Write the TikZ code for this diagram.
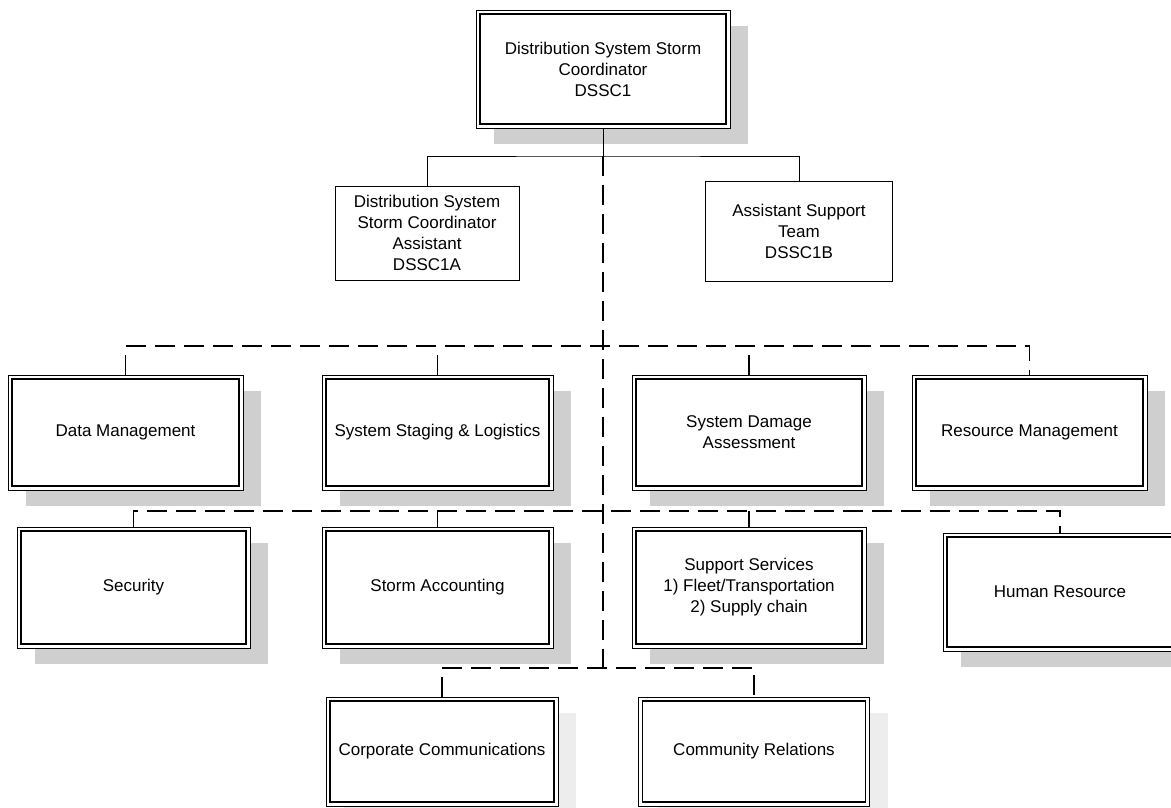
\documentclass[tikz,border=0pt]{standalone}
\usepackage{fontspec}
\setmainfont{Liberation Sans}
\usetikzlibrary{shadows}
\begin{document}
\begin{tikzpicture}[x=1pt,y=-1pt,
  every node/.style={font=\fontsize{17pt}{21pt}\selectfont, align=center, inner sep=0pt},
  plainbox/.style={draw, line width=0.9pt, fill=white},
  dblbox/.style={draw, line width=0.9pt, fill=white,
    drop shadow={shadow xshift=18pt, shadow yshift=-16pt, fill=gray!38, opacity=1},
    path picture={\draw[line width=1.7pt]
      ([shift={(4pt,-4pt)}]path picture bounding box.north west) rectangle
      ([shift={(-4pt,4pt)}]path picture bounding box.south east);}},
  faintbox/.style={dblbox, drop shadow={shadow xshift=18pt, shadow yshift=-16pt, fill=gray!14, opacity=1}},
  solidlink/.style={line width=1pt},
  dashlink/.style={line width=1.3pt, dash pattern=on 20pt off 9pt}
]
\useasboundingbox (0,0) rectangle (1171,807);

% junction points of the connector buses
\coordinate (j1) at (603,156);
\coordinate (b1) at (603,346);
\coordinate (b2) at (603,511);
\coordinate (j3) at (603,668);

% coordinator and assistants
\node[dblbox, minimum width=254pt, minimum height=118pt] (top) at (603,69)
  {Distribution System Storm\\Coordinator\\DSSC1};
\node[plainbox, minimum width=184pt, minimum height=94pt] (dsa) at (427,233)
  {Distribution System\\Storm Coordinator\\Assistant\\DSSC1A};
\node[plainbox, minimum width=187pt, minimum height=100pt] (dsb) at (799,231)
  {Assistant Support\\Team\\DSSC1B};

% first row of functions
\node[dblbox, minimum width=235pt, minimum height=115pt] (dm) at (125.5,432.5) {Data Management};
\node[dblbox, minimum width=231pt, minimum height=115pt] (ssl) at (437.5,432.5) {System Staging \& Logistics};
\node[dblbox, minimum width=234pt, minimum height=115pt] (sda) at (749,432.5) {System Damage\\Assessment};
\node[dblbox, minimum width=235pt, minimum height=115pt] (rm) at (1029.5,432.5) {Resource Management};

% second row of functions
\node[dblbox, minimum width=233pt, minimum height=121pt] (sec) at (133.5,587.5) {Security};
\node[dblbox, minimum width=231pt, minimum height=121pt] (sa) at (437.5,587.5) {Storm Accounting};
\node[dblbox, minimum width=234pt, minimum height=121pt] (ss) at (749,587.5)
  {Support Services\\1) Fleet/Transportation\\2) Supply chain};
\node[dblbox, minimum width=234pt, minimum height=118pt] (hr) at (1060,592) {Human Resource};

% third row
\node[faintbox, minimum width=232pt, minimum height=109pt] (cc) at (442,751.5) {Corporate Communications};
\node[faintbox, minimum width=231pt, minimum height=109pt] (cr) at (754,751.5) {Community Relations};

% solid reporting lines
\draw[solidlink] (top.south) -- (j1);
\draw[solidlink] (dsa.north) |- (j1) -| (dsb.north);

% dashed coordination lines
\draw[dashlink] (j1) -- (j3);
\draw[dashlink] (dm.north) |- (b1) -| (rm.north);
\draw[dashlink] (ssl.north) -- (ssl.north |- b1);
\draw[dashlink] (sda.north) -- (sda.north |- b1);
\draw[dashlink] (sec.north) |- (b2) -| (hr.north);
\draw[dashlink] (sa.north) -- (sa.north |- b2);
\draw[dashlink] (ss.north) -- (ss.north |- b2);
\draw[dashlink] (cc.north) |- (j3) -| (cr.north);
\end{tikzpicture}
\end{document}
